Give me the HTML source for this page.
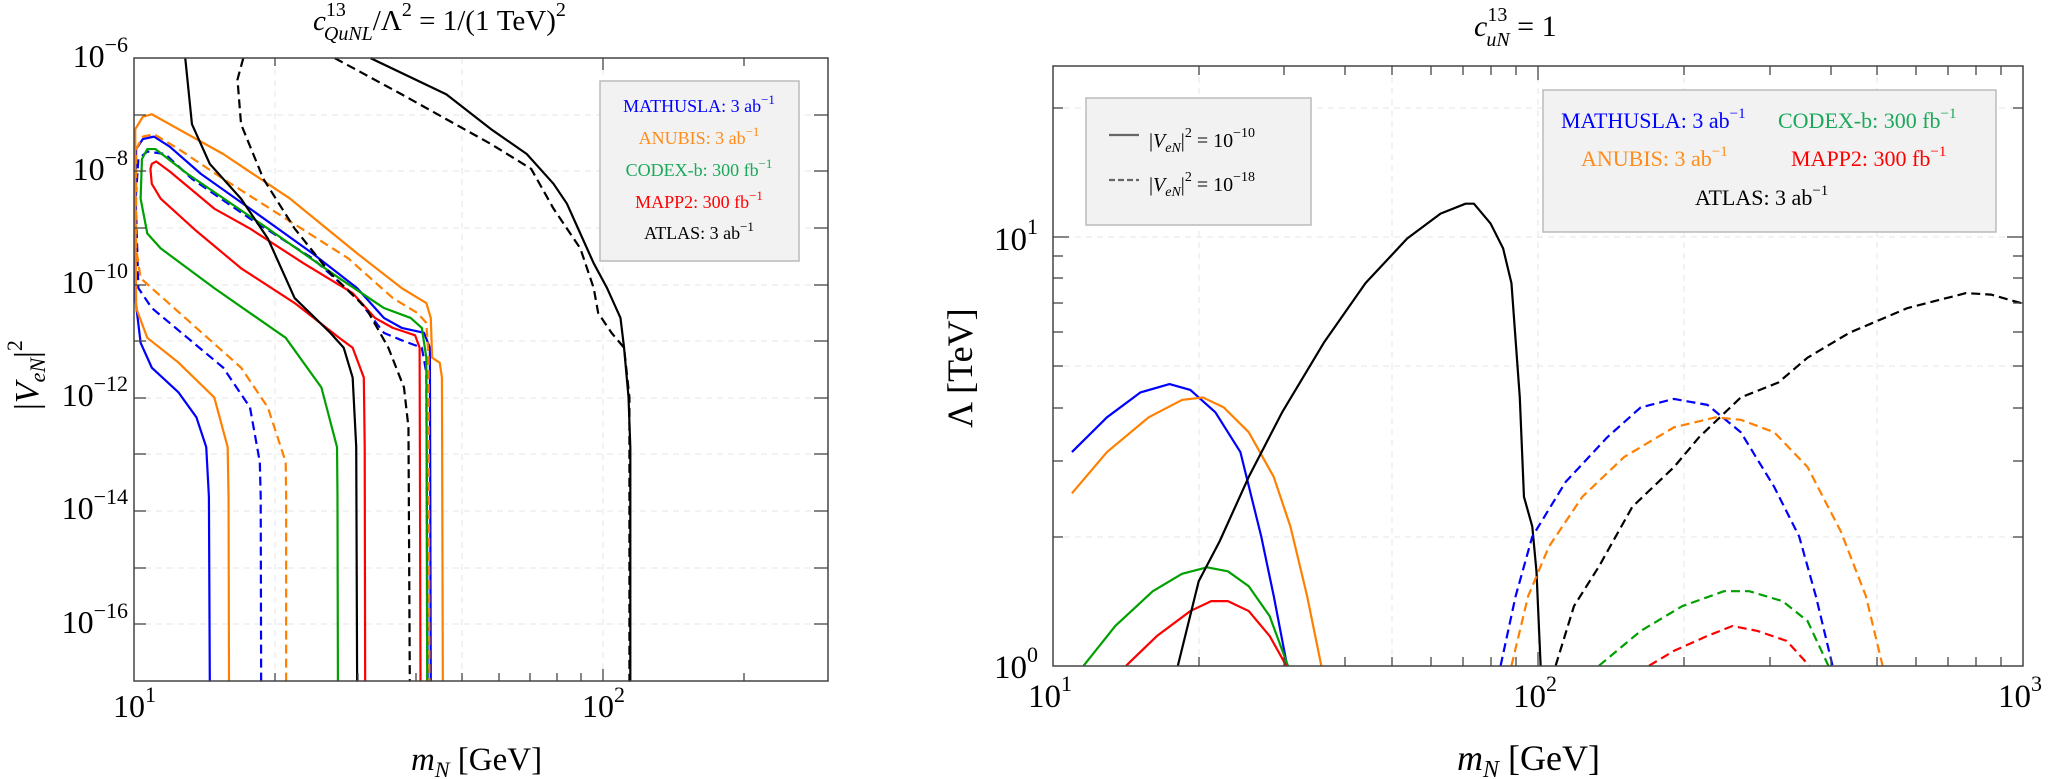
<!DOCTYPE html>
<html><head><meta charset="utf-8"><style>
body{margin:0;background:#fff;width:2048px;height:779px;overflow:hidden}
svg{display:block}
text{font-family:"Liberation Serif",serif;fill:#000}
.c{fill:none;stroke-width:2.2;vector-effect:non-scaling-stroke;stroke-linejoin:round}
.d{stroke-dasharray:9 5}
.g{stroke:#e4e4e4;stroke-width:1;stroke-dasharray:6 5}
</style></head><body>
<svg width="2048" height="779" viewBox="0 0 2048 779">
<!-- LEFT grid -->
<g class="g">
<line x1="134" y1="115" x2="828" y2="115"/><line x1="134" y1="171" x2="828" y2="171"/><line x1="134" y1="228" x2="828" y2="228"/><line x1="134" y1="285" x2="828" y2="285"/><line x1="134" y1="341" x2="828" y2="341"/><line x1="134" y1="398" x2="828" y2="398"/><line x1="134" y1="454" x2="828" y2="454"/><line x1="134" y1="511" x2="828" y2="511"/><line x1="134" y1="568" x2="828" y2="568"/><line x1="134" y1="624" x2="828" y2="624"/>
<line x1="275" y1="58" x2="275" y2="681"/><line x1="462" y1="58" x2="462" y2="681"/><line x1="603" y1="58" x2="603" y2="681"/>
</g>
<g transform="scale(0.4464,0.4968)">
<polyline class="c" stroke="#0000ff" points="470,1372 468,1000 462,900 440,840 400,790 340,740 315,690 303,600 303,400 305,300 320,280 345,275 380,295 450,350 560,420 700,510 800,580 860,640 900,660 950,670 963,700 965,1372"/>
<polyline class="c d" stroke="#0000ff" points="585,1372 584,1000 582,930 560,820 500,740 420,680 340,620 310,580 304,400 310,320 330,305 370,310 430,360 560,440 700,520 800,600 860,670 900,685 945,700 955,750 958,1372"/>
<polyline class="c" stroke="#ff8000" points="513,1372 512,1000 510,900 480,800 400,730 330,680 305,620 303,400 303,260 320,235 340,230 380,250 500,310 650,400 800,510 900,580 955,610 965,640 968,720 985,730 990,760 992,1372"/>
<polyline class="c d" stroke="#ff8000" points="641,1372 641,1000 640,930 600,820 540,740 440,660 340,580 315,560 305,500 305,300 320,275 345,270 400,300 500,360 640,440 780,520 880,600 935,630 955,650 960,720 962,1372"/>
<polyline class="c" stroke="#00a000" points="757,1372 756,1000 755,900 720,780 640,680 480,580 360,500 330,470 315,400 318,320 330,300 348,300 420,350 600,460 760,560 860,620 920,640 945,660 955,720 957,1372"/>
<polyline class="c" stroke="#ff0000" points="818,1372 817,900 815,760 790,700 760,680 660,610 540,540 440,465 360,400 340,370 337,340 340,330 350,325 380,345 480,420 560,460 680,530 790,590 840,640 880,660 930,675 940,700 942,1372"/>
<polyline class="c" stroke="#000" points="415,117 430,250 470,330 540,400 600,480 660,600 740,670 770,700 790,760 798,900 800,1372"/>
<polyline class="c d" stroke="#000" points="545,117 532,160 540,250 590,360 660,460 740,550 820,620 870,700 905,780 915,860 918,1372"/>
<polyline class="c" stroke="#000" points="830,117 1000,190 1100,260 1180,310 1240,370 1270,410 1300,470 1330,530 1360,580 1390,640 1398,700 1408,800 1412,900 1412,1372"/>
<polyline class="c d" stroke="#000" points="750,117 900,190 1000,240 1100,290 1190,340 1240,420 1300,500 1330,580 1340,630 1370,670 1398,700 1410,800 1410,1372"/>
</g>
<rect x="134" y="58" width="694" height="623" fill="none" stroke="#444" stroke-width="1.5"/>
<g stroke="#444" stroke-width="1.3">
<line x1="134" y1="115" x2="146" y2="115"/><line x1="134" y1="171" x2="146" y2="171"/><line x1="134" y1="228" x2="146" y2="228"/><line x1="134" y1="285" x2="146" y2="285"/><line x1="134" y1="341" x2="146" y2="341"/><line x1="134" y1="398" x2="146" y2="398"/><line x1="134" y1="454" x2="146" y2="454"/><line x1="134" y1="511" x2="146" y2="511"/><line x1="134" y1="568" x2="146" y2="568"/><line x1="134" y1="624" x2="146" y2="624"/>
<line x1="814" y1="115" x2="828" y2="115"/><line x1="814" y1="171" x2="828" y2="171"/><line x1="814" y1="228" x2="828" y2="228"/><line x1="814" y1="285" x2="828" y2="285"/><line x1="814" y1="341" x2="828" y2="341"/><line x1="814" y1="398" x2="828" y2="398"/><line x1="814" y1="454" x2="828" y2="454"/><line x1="814" y1="511" x2="828" y2="511"/><line x1="814" y1="568" x2="828" y2="568"/><line x1="814" y1="624" x2="828" y2="624"/>
<line x1="275" y1="681" x2="275" y2="673"/><line x1="358" y1="681" x2="358" y2="673"/><line x1="416" y1="681" x2="416" y2="673"/><line x1="462" y1="681" x2="462" y2="673"/><line x1="499" y1="681" x2="499" y2="673"/><line x1="530" y1="681" x2="530" y2="673"/><line x1="557" y1="681" x2="557" y2="673"/><line x1="581" y1="681" x2="581" y2="673"/><line x1="603" y1="681" x2="603" y2="669"/><line x1="744" y1="681" x2="744" y2="673"/>
<line x1="275" y1="58" x2="275" y2="66"/><line x1="603" y1="58" x2="603" y2="70"/><line x1="744" y1="58" x2="744" y2="66"/>
</g>
<g font-size="32" text-anchor="end">
<text x="128" y="67">10<tspan font-size="22" dy="-15">−6</tspan></text>
<text x="128" y="180">10<tspan font-size="22" dy="-15">−8</tspan></text>
<text x="128" y="293">10<tspan font-size="22" dy="-15">−10</tspan></text>
<text x="128" y="406">10<tspan font-size="22" dy="-15">−12</tspan></text>
<text x="128" y="519">10<tspan font-size="22" dy="-15">−14</tspan></text>
<text x="128" y="633">10<tspan font-size="22" dy="-15">−16</tspan></text>
</g>
<text x="113" y="717" font-size="32">10<tspan font-size="22" dy="-15">1</tspan></text>
<text x="582" y="717" font-size="32">10<tspan font-size="22" dy="-15">2</tspan></text>
<text x="411" y="770" font-size="33"><tspan font-style="italic">m</tspan><tspan font-style="italic" font-size="22" dy="7">N</tspan><tspan dy="-7"> [GeV]</tspan></text>
<text transform="translate(38,410) rotate(-90)" font-size="34">|<tspan font-style="italic">V</tspan><tspan font-style="italic" font-size="22" dy="7">eN</tspan><tspan dy="-7">|</tspan><tspan font-size="22" dy="-16">2</tspan></text>
<text x="313" y="30" font-size="29"><tspan font-style="italic">c</tspan><tspan font-size="20" dy="-14">13</tspan><tspan font-size="20" font-style="italic" dx="-22" dy="24">QuNL</tspan><tspan dy="-10">/Λ</tspan><tspan font-size="20" dy="-14">2</tspan><tspan dy="14"> = 1/(1 TeV)</tspan><tspan font-size="20" dy="-14">2</tspan></text>
<rect x="600" y="81" width="199" height="180" fill="#f2f2f2" stroke="#bbb" stroke-width="1.5"/>
<g font-size="18" text-anchor="middle">
<text x="699" y="112" style="fill:#0000ff">MATHUSLA: 3 ab<tspan font-size="13" dy="-8">−1</tspan></text>
<text x="699" y="144" style="fill:#ff8c1a">ANUBIS: 3 ab<tspan font-size="13" dy="-8">−1</tspan></text>
<text x="699" y="176" style="fill:#1aa85a">CODEX-b: 300 fb<tspan font-size="13" dy="-8">−1</tspan></text>
<text x="699" y="208" style="fill:#ff0000">MAPP2: 300 fb<tspan font-size="13" dy="-8">−1</tspan></text>
<text x="699" y="239">ATLAS: 3 ab<tspan font-size="13" dy="-8">−1</tspan></text>
</g>

<!-- RIGHT -->
<g class="g">
<line x1="1053" y1="108" x2="2023" y2="108"/><line x1="1053" y1="237" x2="2023" y2="237"/><line x1="1053" y1="366" x2="2023" y2="366"/><line x1="1053" y1="537" x2="2023" y2="537"/>
<line x1="1199" y1="66" x2="1199" y2="666"/><line x1="1392" y1="66" x2="1392" y2="666"/><line x1="1538" y1="66" x2="1538" y2="666"/><line x1="1684" y1="66" x2="1684" y2="666"/><line x1="1877" y1="66" x2="1877" y2="666"/>
</g>
<g transform="translate(740,0) scale(0.834,0.4968)">
<polyline class="c" stroke="#0000ff" points="398,910 440,840 480,790 515,773 540,785 570,830 600,910 625,1080 640,1200 656,1340"/>
<polyline class="c" stroke="#ff8000" points="398,993 440,910 490,840 530,805 555,800 580,820 610,870 640,960 660,1060 680,1200 697,1340"/>
<polyline class="c" stroke="#00a000" points="412,1340 450,1260 495,1190 530,1155 560,1142 585,1150 610,1180 635,1240 657,1340"/>
<polyline class="c" stroke="#ff0000" points="463,1340 500,1280 540,1230 565,1210 585,1210 610,1230 635,1280 655,1340"/>
<polyline class="c" stroke="#000" points="525,1340 550,1170 575,1090 610,960 650,830 700,690 750,570 800,480 840,430 870,410 880,410 900,450 915,500 925,570 935,800 940,1000 950,1060 955,1150 960,1340"/>
<polyline class="c d" stroke="#0000ff" points="912,1340 930,1200 950,1080 990,970 1040,880 1080,820 1120,803 1160,815 1200,870 1240,980 1270,1080 1290,1200 1310,1340"/>
<polyline class="c d" stroke="#ff8000" points="925,1340 945,1200 970,1100 1010,1000 1060,920 1120,860 1170,840 1200,845 1240,870 1280,940 1320,1070 1350,1200 1370,1340"/>
<polyline class="c d" stroke="#000" points="978,1340 1000,1220 1030,1140 1070,1020 1120,940 1150,880 1200,800 1245,770 1280,720 1330,670 1400,620 1470,590 1500,593 1540,612"/>
<polyline class="c d" stroke="#00a000" points="1030,1340 1080,1270 1130,1220 1180,1190 1210,1190 1250,1210 1280,1250 1305,1340"/>
<polyline class="c d" stroke="#ff0000" points="1090,1340 1120,1310 1160,1280 1190,1260 1220,1270 1255,1290 1282,1340"/>
</g>
<rect x="1053" y="66" width="970" height="600" fill="none" stroke="#444" stroke-width="1.5"/>
<g stroke="#444" stroke-width="1.3">
<line x1="1053" y1="237" x2="1069" y2="237"/><line x1="1053" y1="108" x2="1063" y2="108"/><line x1="1053" y1="537" x2="1063" y2="537"/><line x1="1053" y1="461" x2="1063" y2="461"/><line x1="1053" y1="408" x2="1063" y2="408"/><line x1="1053" y1="366" x2="1063" y2="366"/><line x1="1053" y1="332" x2="1063" y2="332"/><line x1="1053" y1="303" x2="1063" y2="303"/><line x1="1053" y1="278" x2="1063" y2="278"/><line x1="1053" y1="256" x2="1063" y2="256"/>
<line x1="2007" y1="237" x2="2023" y2="237"/><line x1="2013" y1="108" x2="2023" y2="108"/><line x1="2013" y1="537" x2="2023" y2="537"/><line x1="2013" y1="461" x2="2023" y2="461"/><line x1="2013" y1="408" x2="2023" y2="408"/><line x1="2013" y1="366" x2="2023" y2="366"/><line x1="2013" y1="332" x2="2023" y2="332"/><line x1="2013" y1="303" x2="2023" y2="303"/><line x1="2013" y1="278" x2="2023" y2="278"/><line x1="2013" y1="256" x2="2023" y2="256"/>
<line x1="1199" y1="666" x2="1199" y2="657"/><line x1="1284" y1="666" x2="1284" y2="657"/><line x1="1345" y1="666" x2="1345" y2="657"/><line x1="1392" y1="666" x2="1392" y2="657"/><line x1="1431" y1="666" x2="1431" y2="657"/><line x1="1463" y1="666" x2="1463" y2="657"/><line x1="1491" y1="666" x2="1491" y2="657"/><line x1="1516" y1="666" x2="1516" y2="657"/><line x1="1538" y1="666" x2="1538" y2="652"/>
<line x1="1684" y1="666" x2="1684" y2="657"/><line x1="1770" y1="666" x2="1770" y2="657"/><line x1="1831" y1="666" x2="1831" y2="657"/><line x1="1877" y1="666" x2="1877" y2="657"/><line x1="1916" y1="666" x2="1916" y2="657"/><line x1="1948" y1="666" x2="1948" y2="657"/><line x1="1976" y1="666" x2="1976" y2="657"/><line x1="2001" y1="666" x2="2001" y2="657"/>
<line x1="1199" y1="66" x2="1199" y2="75"/><line x1="1284" y1="66" x2="1284" y2="75"/><line x1="1345" y1="66" x2="1345" y2="75"/><line x1="1392" y1="66" x2="1392" y2="75"/><line x1="1431" y1="66" x2="1431" y2="75"/><line x1="1463" y1="66" x2="1463" y2="75"/><line x1="1491" y1="66" x2="1491" y2="75"/><line x1="1516" y1="66" x2="1516" y2="75"/><line x1="1538" y1="66" x2="1538" y2="80"/>
<line x1="1684" y1="66" x2="1684" y2="75"/><line x1="1770" y1="66" x2="1770" y2="75"/><line x1="1831" y1="66" x2="1831" y2="75"/><line x1="1877" y1="66" x2="1877" y2="75"/><line x1="1916" y1="66" x2="1916" y2="75"/><line x1="1948" y1="66" x2="1948" y2="75"/><line x1="1976" y1="66" x2="1976" y2="75"/><line x1="2001" y1="66" x2="2001" y2="75"/>
</g>
<g font-size="33">
<text x="994" y="250">10<tspan font-size="22" dy="-16">1</tspan></text>
<text x="994" y="678">10<tspan font-size="22" dy="-16">0</tspan></text>
<text x="1028" y="707">10<tspan font-size="22" dy="-16">1</tspan></text>
<text x="1513" y="707">10<tspan font-size="22" dy="-16">2</tspan></text>
<text x="1998" y="707">10<tspan font-size="22" dy="-16">3</tspan></text>
</g>
<text x="1457" y="770" font-size="36"><tspan font-style="italic">m</tspan><tspan font-style="italic" font-size="24" dy="7">N</tspan><tspan dy="-7"> [GeV]</tspan></text>
<text transform="translate(972,428) rotate(-90)" font-size="36">Λ [TeV]</text>
<text x="1474" y="36" font-size="30"><tspan font-style="italic">c</tspan><tspan font-size="20" dy="-15">13</tspan><tspan font-size="20" font-style="italic" dx="-21" dy="25">uN</tspan><tspan dy="-10"> = 1</tspan></text>
<rect x="1086" y="98" width="225" height="127" fill="#f2f2f2" stroke="#bbb" stroke-width="1.5"/>
<line x1="1109" y1="135" x2="1139" y2="135" stroke="#666" stroke-width="2.2"/>
<line x1="1109" y1="180" x2="1139" y2="180" stroke="#666" stroke-width="2.2" stroke-dasharray="6 3"/>
<g font-size="20">
<text x="1149" y="147">|<tspan font-style="italic">V</tspan><tspan font-style="italic" font-size="14" dy="5">eN</tspan><tspan dy="-5">|</tspan><tspan font-size="14" dy="-10">2</tspan><tspan dy="10"> = 10</tspan><tspan font-size="14" dy="-10">−10</tspan></text>
<text x="1149" y="191">|<tspan font-style="italic">V</tspan><tspan font-style="italic" font-size="14" dy="5">eN</tspan><tspan dy="-5">|</tspan><tspan font-size="14" dy="-10">2</tspan><tspan dy="10"> = 10</tspan><tspan font-size="14" dy="-10">−18</tspan></text>
</g>
<rect x="1543" y="90" width="453" height="142" fill="#f2f2f2" stroke="#bbb" stroke-width="1.5"/>
<g font-size="22">
<text x="1561" y="128" style="fill:#0000ff">MATHUSLA: 3 ab<tspan font-size="15" dy="-10">−1</tspan></text>
<text x="1778" y="128" style="fill:#1aa85a">CODEX-b: 300 fb<tspan font-size="15" dy="-10">−1</tspan></text>
<text x="1581" y="166" style="fill:#ff8c1a">ANUBIS: 3 ab<tspan font-size="15" dy="-10">−1</tspan></text>
<text x="1791" y="166" style="fill:#ff0000">MAPP2: 300 fb<tspan font-size="15" dy="-10">−1</tspan></text>
<text x="1695" y="205">ATLAS: 3 ab<tspan font-size="15" dy="-10">−1</tspan></text>
</g>
</svg>
</body></html>
